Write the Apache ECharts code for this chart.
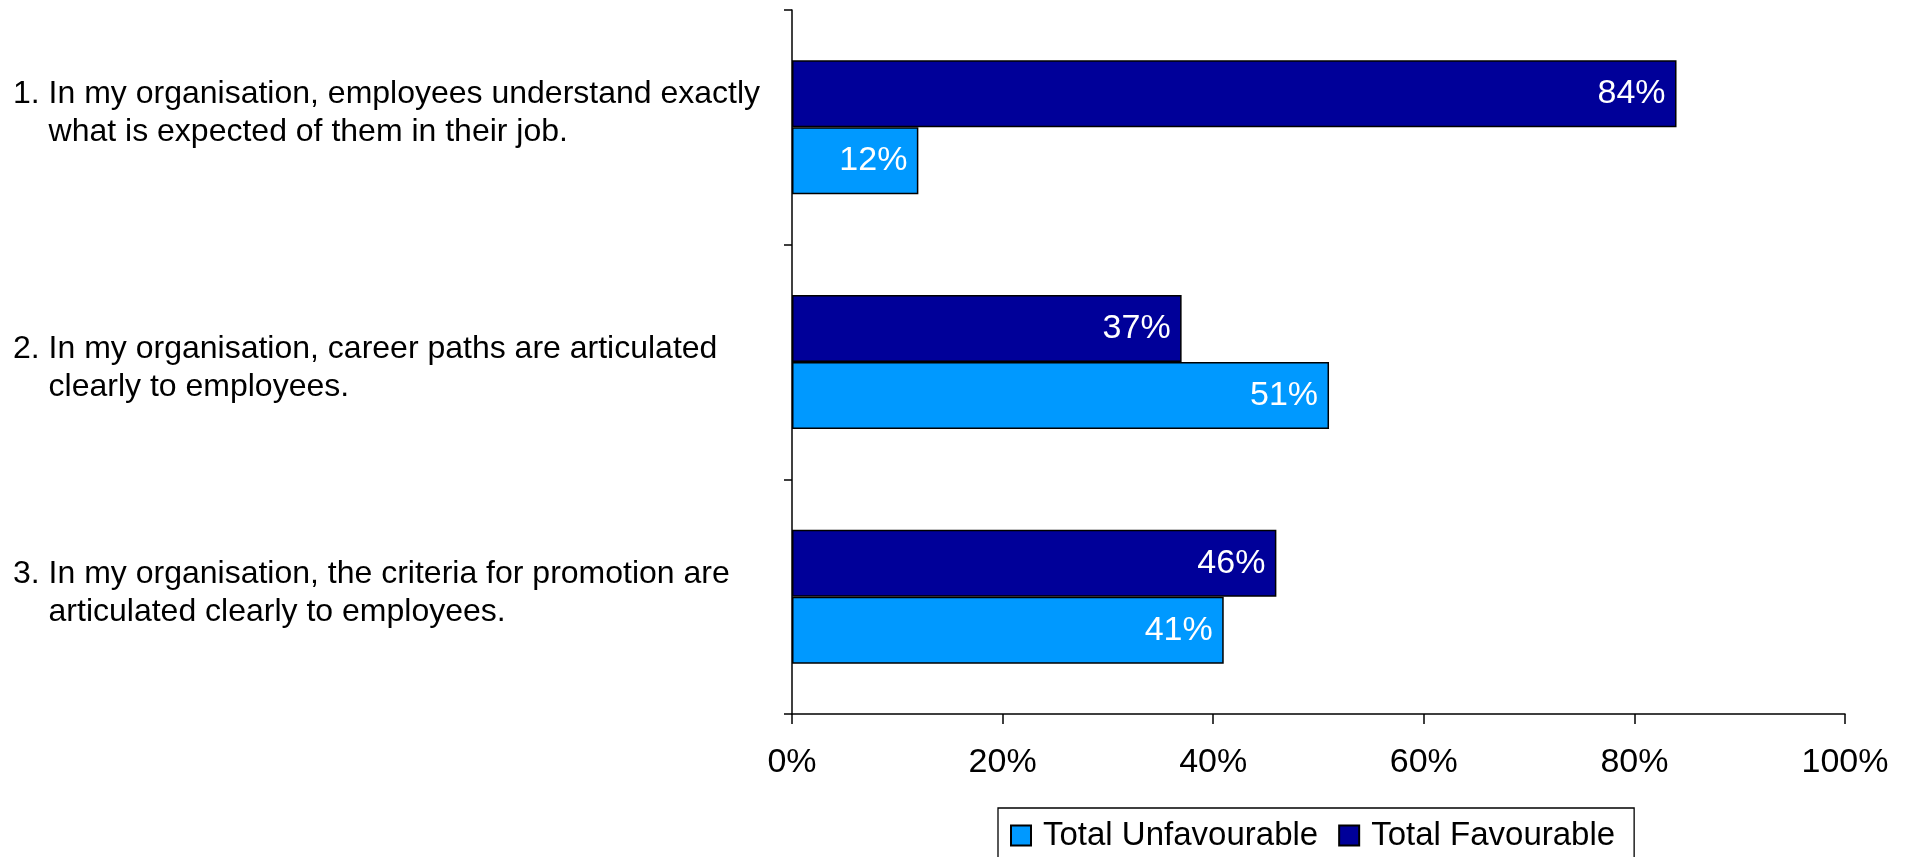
<!DOCTYPE html>
<html>
<head>
<meta charset="utf-8">
<title>Clarity of expectations and career paths</title>
<script src="https://cdn.jsdelivr.net/npm/echarts@6/dist/echarts.min.js"></script>
<style>
  html, body { margin: 0; padding: 0; background: #ffffff; }
  #chart { width: 1912px; height: 857px; }
</style>
</head>
<body>
<div id="chart"></div>
<script>
// Survey statements (line break marks where each wraps)
const statements = [
  '1. In my organisation, employees understand exactly\nwhat is expected of them in their job.',
  '2. In my organisation, career paths are articulated\nclearly to employees.',
  '3. In my organisation, the criteria for promotion are\narticulated clearly to employees.'
];

// Percent of respondents per statement
const unfavourable = [12, 51, 41];
const favourable = [84, 37, 46];

// Value axis ticks
const axisTicks = [0, 20, 40, 60, 80, 100];

const seriesNames = ['Total Unfavourable', 'Total Favourable'];

// Small vertical nudges (px, positive = up) for each statement label
const labelLift = [14, -6, 3];

const FONT = '"Liberation Sans", Arial, sans-serif';

const chart = echarts.init(document.getElementById('chart'), null, { renderer: 'canvas' });

// Left-aligned lines with a hanging indent after the item number
function statementLabel(text) {
  return text.split('\n')
    .map((line, i) => '{t|' + (i === 0 ? line : '    ' + line) + '}')
    .join('\n');
}

const categoryData = statements.map((s, i) => {
  const lift = labelLift[i];
  return {
    value: s,
    textStyle: {
      padding: lift >= 0 ? [0, 0, 2 * lift, 0] : [-2 * lift, 0, 0, 0]
    }
  };
});

const barLabel = {
  show: true,
  position: 'insideRight',
  distance: 11,
  color: '#ffffff',
  fontFamily: FONT,
  fontSize: 34,
  formatter: p => p.value + '%'
};

chart.setOption({
  animation: false,
  backgroundColor: '#ffffff',
  textStyle: { fontFamily: FONT },
  grid: { left: 792, right: 67, top: 10, bottom: 143, containLabel: false, outerBoundsMode: 'none' },
  legend: {
    data: seriesNames,
    left: 998,
    top: 808,
    orient: 'horizontal',
    padding: [11, 19, 20, 12],
    itemGap: 20,
    itemWidth: 20,
    itemHeight: 20,
    borderColor: '#000000',
    borderWidth: 1.3,
    icon: 'rect',
    textStyle: { fontFamily: FONT, fontSize: 33, color: '#000000', lineHeight: 32, padding: [0, 0, 0, 7] }
  },
  xAxis: {
    type: 'value',
    min: axisTicks[0],
    max: axisTicks[axisTicks.length - 1],
    interval: axisTicks[1] - axisTicks[0],
    axisLine: { show: true, lineStyle: { color: '#000000', width: 1.5 } },
    axisTick: { show: true, length: 10, lineStyle: { color: '#000000', width: 1.5 } },
    splitLine: { show: false },
    axisLabel: {
      color: '#000000',
      fontFamily: FONT,
      fontSize: 34,
      margin: 32,
      formatter: '{value}%'
    }
  },
  yAxis: {
    type: 'category',
    inverse: true,
    data: categoryData,
    axisLine: { show: true, lineStyle: { color: '#000000', width: 1.5 } },
    axisTick: { show: true, length: 8, lineStyle: { color: '#000000', width: 1.5 } },
    splitLine: { show: false },
    axisLabel: {
      margin: 12,
      width: 767,
      overflow: 'none',
      color: '#000000',
      fontFamily: FONT,
      fontSize: 32,
      lineHeight: 38,
      formatter: statementLabel,
      rich: {
        t: { align: 'left', fontFamily: FONT, fontSize: 32, lineHeight: 38, color: '#000000' }
      }
    }
  },
  series: [
    {
      name: seriesNames[1],
      type: 'bar',
      data: favourable,
      barWidth: 67,
      barGap: '0%',
      itemStyle: { color: '#000099', borderColor: '#000000', borderWidth: 1.5 },
      label: barLabel
    },
    {
      name: seriesNames[0],
      type: 'bar',
      data: unfavourable,
      barWidth: 67,
      barGap: '0%',
      itemStyle: { color: '#0099FF', borderColor: '#000000', borderWidth: 1.5 },
      label: barLabel
    }
  ]
});
</script>
</body>
</html>
